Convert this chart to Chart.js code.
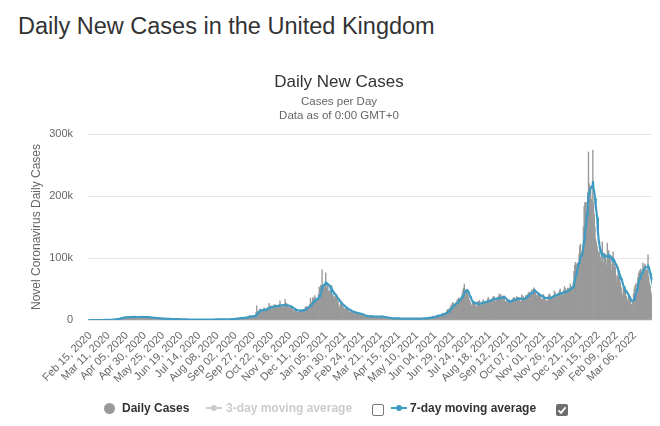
<!DOCTYPE html>
<html>
<head>
<meta charset="utf-8">
<script src="https://cdn.jsdelivr.net/npm/chart.js@4.4.1/dist/chart.umd.min.js"></script>
<style>
  html, body { margin: 0; padding: 0; background: #fff; }
  body { width: 660px; height: 426px; position: relative; overflow: hidden; font-family: "Liberation Sans", Arial, sans-serif; }
  #pageTitle { position: absolute; left: 18px; top: 12px; font-size: 23.5px; line-height: 28px; color: #333; white-space: nowrap; }
  #chart { position: absolute; left: 0; top: 0; }
  .lg { position: absolute; font-weight: bold; font-size: 12px; line-height: 14px; white-space: nowrap; }
</style>
</head>
<body>
<div id="pageTitle">Daily New Cases in the United Kingdom</div>
<canvas id="chart" width="660" height="426"></canvas>

<div id="legend">
  <span style="position:absolute;left:104px;top:403px;width:11px;height:11px;border-radius:50%;background:#999;"></span>
  <span class="lg" style="left:122px;top:401px;color:#333;">Daily Cases</span>
  <span style="position:absolute;left:206px;top:407px;width:16px;height:2px;background:#ccc;"></span>
  <span style="position:absolute;left:211px;top:405px;width:6px;height:6px;border-radius:50%;background:#ccc;"></span>
  <span class="lg" style="left:226px;top:401px;color:#ccc;">3-day moving average</span>
  <span style="position:absolute;left:372px;top:404px;width:10px;height:10px;border:1px solid #777;border-radius:2px;background:#fff;"></span>
  <span style="position:absolute;left:391px;top:407px;width:16px;height:2px;background:#3f9bc1;"></span>
  <span style="position:absolute;left:396px;top:405px;width:6px;height:6px;border-radius:50%;background:#3f9bc1;"></span>
  <span class="lg" style="left:410px;top:401px;color:#333;">7-day moving average</span>
  <span style="position:absolute;left:556px;top:404px;width:12px;height:12px;border-radius:2px;background:#6e6e6e;">
    <svg width="12" height="12" viewBox="0 0 12 12" style="position:absolute;left:0;top:0"><path d="M2.5 6.3 L5 8.8 L9.6 3.2" stroke="#fff" stroke-width="1.8" fill="none"/></svg>
  </span>
</div>

<script>
// Tick labels shown on the x axis (every 25th day)
const tickLabels = [
  "Feb 15, 2020","Mar 11, 2020","Apr 05, 2020","Apr 30, 2020","May 25, 2020","Jun 19, 2020",
  "Jul 14, 2020","Aug 08, 2020","Sep 02, 2020","Sep 27, 2020","Oct 22, 2020","Nov 16, 2020",
  "Dec 11, 2020","Jan 05, 2021","Jan 30, 2021","Feb 24, 2021","Mar 21, 2021","Apr 15, 2021",
  "May 10, 2021","Jun 04, 2021","Jun 29, 2021","Jul 24, 2021","Aug 18, 2021","Sep 12, 2021",
  "Oct 07, 2021","Nov 01, 2021","Nov 26, 2021","Dec 21, 2021","Jan 15, 2022","Feb 09, 2022",
  "Mar 06, 2022"
];
const tickEvery = 25;
const firstDay = "2020-02-15";

// Daily new cases (one value per day from Feb 15, 2020)
const dailyCases = [
0,0,0,0,0,0,0,
0,4,0,0,0,2,5,
3,12,4,11,34,29,48,
43,67,48,61,74,133,209,
342,251,152,407,676,643,714,
1035,665,967,1427,1452,2129,2885,
2546,2433,2619,3009,4324,4244,4450,
3735,5903,3802,3634,5491,4344,5200,
5233,4657,4342,5252,4603,4617,5599,
5525,4676,4301,4451,4583,5386,4913,
4463,4309,3996,4076,6032,6201,4806,
4339,4406,3985,4406,6111,5614,4649,
3896,3923,3877,3403,3242,3446,3560,
3451,3534,2684,3142,2472,2615,2959,
2959,2409,1625,2004,2013,1887,2095,
2445,1936,1570,1653,1871,1805,1650,
1557,1326,1205,1741,1003,1266,1541,
1425,1514,1056,1279,1115,1218,1346,
1295,1221,958,874,653,1118,1380,
890,901,815,689,829,576,544,
624,516,352,581,538,512,642,
820,650,530,598,538,687,827,
796,580,535,445,560,769,768,
767,747,685,763,581,846,880,
744,743,938,670,892,950,871,
758,1062,816,1148,1009,1441,1062,
1040,726,713,812,1182,1033,1288,
1041,1184,853,1089,1048,1522,1276,
1108,1715,1406,1295,1508,1735,1940,
2988,2948,2460,2420,2659,2919,3539,
3497,3330,2621,3105,3991,3395,4322,
4422,3899,4368,4926,6178,6634,6874,
6042,5693,4044,7143,7108,6914,6968,
12872,22961,12594,14542,14162,17540,13864,
15166,12872,13972,17234,19724,18980,15650,
16171,16982,18804,21331,26688,20530,23012,
19790,20890,18950,22885,24701,23065,24405,
21915,23254,18950,20018,25177,31000,23287,
24957,20572,21350,20412,22950,33470,27301,
26860,24962,21363,20051,19609,22915,20252,
19875,18662,15450,11299,18213,17555,16022,
15871,12155,12330,13430,16170,14879,16298,
15539,17272,14718,12282,16578,20964,21672,
21502,18447,20263,18450,25161,35383,28507,
27052,35928,33364,36804,39237,32725,30000,
30501,34693,41385,53135,50023,55892,53285,
81000,52000,50000,55000,56000,76000,52000,
59937,54940,46169,45533,47525,48682,55761,
41346,38598,37535,33355,38905,37892,40261,
33552,30004,22195,20089,25308,28680,29079,
23275,21088,18607,16840,19202,20634,19114,
18262,15845,14104,12364,13013,15144,13494,
13308,10972,9765,10625,12718,12057,12027,
10406,9834,10641,8489,9938,9985,8523,
7434,6035,5455,6391,5766,6573,6040,
5177,5177,4712,5766,6385,6609,6753,
5534,4618,5089,5294,5758,6303,4802,
5587,5312,5342,5379,5605,6397,6187,
3862,4715,4654,4052,4040,4479,3402,
3423,2297,2762,2379,3030,2763,3150,
2589,1730,3568,2472,2491,2672,2596,
2206,1882,2524,1946,2396,2729,2678,
2061,1712,2064,1946,2166,2381,2445,
1907,1671,1649,2613,2166,2490,2047,
1770,1979,2357,2284,2657,2193,2027,
1926,1737,2439,2412,2696,2874,2829,
2235,1979,2439,3240,3542,3180,4182,
3398,3165,3383,3165,4330,5274,6238,
5765,5341,5683,6048,7540,7393,8125,
7738,7490,7742,7673,9055,11007,10476,
10321,9284,10633,11625,16135,16703,15810,
18270,14876,22868,20479,26068,27989,27125,
24248,24248,27334,28773,32548,32551,35707,
31772,34471,34471,36660,42302,48553,51870,
58000,48161,39950,46558,44104,39906,36389,
31795,29173,24950,23511,27734,31117,29622,
24470,26144,21952,21691,29312,30215,27362,
31808,25161,25161,23510,29612,33074,29520,
28438,26750,26852,26852,33904,36572,32058,
32253,31914,31914,30838,35847,38046,37314,
32406,29547,33196,32181,35693,38154,42076,
37011,41192,37578,30825,38975,38013,37622,
29173,29547,30597,26628,30825,26911,32651,
30144,30144,29612,31564,34460,36710,35623,
32417,29612,37960,34526,36480,35577,35077,
30301,22141,40701,33869,38520,36060,35015,
34574,39962,40224,38520,42776,45066,44932,
43423,45140,49156,43738,49139,52009,49298,
44985,39962,36567,40954,43941,39842,39842,
37450,32813,33865,33865,41299,37269,34029,
30693,30305,32322,32203,39329,42408,40375,
36517,36517,36517,37243,38263,46807,44242,
40004,39931,36567,41299,43676,47240,50091,
39567,42583,40941,39716,48374,53945,50584,
42848,43992,51459,45691,51342,50867,58194,
54073,48854,54661,59610,78610,88376,93045,
90418,82886,91743,90629,106122,119789,122186,
110000,95000,120000,150000,183000,189000,190000,
175000,190000,205000,271000,220000,215000,210000,
195000,185000,274000,190000,170000,150000,130000,
125000,118000,112000,108000,110000,100000,102000,
95000,126000,100000,92000,108000,105000,98000,
88000,124000,95000,112000,100000,104000,90000,
80000,92000,110000,98000,90000,85000,72000,
62000,70000,85000,68000,72000,60000,52000,
44000,40000,55000,52000,50000,46000,38000,
33000,30000,38000,36000,34000,30000,25000,
22000,30000,42000,50000,55000,58000,52000,
60000,68000,75000,78000,80000,82000,75000,
78000,92000,85000,88000,90000,82000,80000,
80000,105000,70000,60000,55000,45000,40000
];

// 7-day moving average (one value per day)
const movingAvg7 = [
0,0,0,0,0,0,0,
0,1,1,1,1,2,2,
5,7,10,12,15,17,20,
30,40,50,61,71,81,91,
143,195,247,299,351,403,455,
606,756,907,1057,1208,1358,1509,
1776,2042,2309,2575,2842,3108,3375,
3548,3721,3894,4068,4241,4414,4587,
4632,4676,4721,4766,4810,4855,4900,
4891,4881,4872,4862,4853,4843,4834,
4835,4836,4837,4837,4838,4839,4840,
4832,4825,4817,4810,4802,4795,4787,
4620,4454,4287,4121,3954,3787,3621,
3529,3438,3346,3255,3163,3071,2980,
2860,2741,2621,2501,2381,2262,2142,
2100,2058,2016,1974,1931,1889,1847,
1780,1713,1646,1579,1511,1444,1377,
1363,1349,1335,1321,1307,1293,1279,
1249,1220,1190,1160,1130,1101,1071,
1025,979,933,887,841,795,749,
719,689,659,628,598,568,538,
556,574,592,610,628,646,664,
660,656,652,648,644,640,636,
653,669,686,703,720,736,753,
764,775,786,797,808,819,830,
860,891,921,951,981,1012,1042,
1032,1022,1012,1001,991,981,971,
998,1025,1052,1078,1105,1132,1159,
1212,1265,1318,1371,1424,1477,1530,
1718,1907,2095,2283,2472,2660,2848,
2936,3025,3113,3201,3290,3378,3466,
3732,3998,4264,4530,4797,5063,5329,
5464,5599,5734,5869,6003,6138,6273,
7592,8911,10230,11549,12868,14186,15505,
15608,15712,15815,15918,16021,16125,16228,
16839,17450,18060,18671,19282,19892,20503,
20731,20959,21187,21415,21642,21870,22098,
22280,22462,22644,22826,23008,23190,23372,
23523,23674,23825,23976,24128,24279,24430,
24124,23818,23512,23206,22899,22593,22287,
21492,20698,19903,19108,18314,17519,16725,
16400,16074,15749,15424,15098,14773,14448,
14813,15178,15543,15908,16274,16639,17004,
17998,18991,19985,20979,21972,22966,23959,
25334,26710,28085,29460,30836,32211,33587,
34080,33903,35049,37382,38923,42233,45559,
52773,55246,56476,56743,57597,60469,60286,
57277,57697,57149,55797,54586,50684,51221,
48565,46231,44997,43257,42026,40485,38270,
36658,35046,33434,31822,30211,28599,26987,
25964,24940,23917,22893,21870,20846,19823,
19077,18332,17586,16840,16095,15349,14604,
14180,13757,13333,12910,12486,12062,11639,
11360,11082,10803,10524,10245,9967,9688,
9196,8703,8211,7719,7227,6734,6242,
6178,6115,6051,5988,5924,5860,5797,
5732,5667,5602,5537,5473,5408,5343,
5392,5441,5490,5540,5589,5638,5687,
5471,5254,5038,4822,4605,4389,4172,
3980,3788,3596,3404,3213,3021,2829,
2795,2760,2726,2691,2657,2622,2588,
2552,2516,2480,2444,2409,2373,2337,
2305,2272,2240,2208,2176,2143,2111,
2106,2102,2097,2092,2087,2083,2078,
2093,2107,2122,2137,2152,2166,2181,
2215,2248,2282,2315,2349,2382,2416,
2495,2575,2654,2733,2812,2892,2971,
3137,3304,3470,3637,3803,3969,4136,
4482,4827,5173,5519,5865,6210,6556,
6868,7180,7492,7804,8116,8428,8740,
9339,9937,10536,11134,11733,12331,12930,
14301,15671,17042,18413,19784,21154,22525,
23499,24473,25447,26422,27396,28370,29344,
30868,32393,33917,35441,36966,38490,40014,
43761,45717,46499,47913,48171,46936,44724,
40980,38268,36125,32833,30494,29238,28272,
27930,27588,27246,26904,26562,26220,25878,
26219,26560,26901,27241,27582,27923,28264,
28541,28818,29095,29373,29650,29927,30204,
30749,31294,31839,32384,32929,33473,34018,
34123,34227,34332,34436,34541,34645,34750,
35117,35483,35850,36217,36584,36950,37317,
36197,35077,33957,32837,31716,30596,29476,
29923,30371,30818,31266,31713,32160,32608,
32881,33155,33428,33701,33974,34248,34521,
34418,34315,34212,34109,34007,33904,33801,
34810,35819,36828,37837,38847,39856,40865,
41801,42736,43672,44608,45544,46479,47415,
46480,45545,44610,43675,42740,41805,40870,
40146,39421,38697,37972,37248,36523,35799,
35739,35678,35618,35558,35497,35437,35376,
35957,36538,37120,37701,38282,38863,39444,
39907,40371,40834,41297,41760,42224,42687,
43032,43377,43722,44066,44411,44756,45101,
45686,46272,46857,47443,48028,48614,49199,
50800,51500,52000,53900,57800,63200,68200,
73400,78200,83500,87900,91900,96300,100500,
103300,105000,109100,117600,128600,138400,148100,
157400,171000,183100,200400,205700,209400,212300,
215100,214400,224300,212700,205600,196300,184800,
174800,165300,142100,130400,121800,114700,110700,
106400,107600,105800,103600,103300,104000,103400,
102400,102100,101400,104300,103100,103000,101800,
100700,96100,98300,96300,94800,92100,89600,
87000,83800,80300,76000,73400,69800,67000,
64400,60100,55800,53600,50400,48400,46400,
44800,43400,41000,38700,36400,34100,32300,
30700,30700,31300,33300,36300,40300,44100,
49600,55000,59700,63700,67300,70700,74000,
76600,80000,81400,82800,84300,84300,85000,
85300,87100,85000,81000,76000,70700,65000
];

// Category labels: one calendar date per data point
const MONTHS = ["Jan","Feb","Mar","Apr","May","Jun","Jul","Aug","Sep","Oct","Nov","Dec"];
const start = new Date(firstDay + "T00:00:00Z");
const categories = dailyCases.map((_, i) => {
  const d = new Date(start.getTime() + i * 86400000);
  return MONTHS[d.getUTCMonth()] + " " + String(d.getUTCDate()).padStart(2, "0") + ", " + d.getUTCFullYear();
});

Chart.defaults.font.family = '"Liberation Sans", Arial, sans-serif';
Chart.defaults.color = '#666';

new Chart(document.getElementById('chart'), {
  type: 'bar',
  data: {
    labels: categories,
    datasets: [
      {
        type: 'line',
        label: '7-day moving average',
        data: movingAvg7,
        borderColor: '#3f9bc1',
        borderWidth: 2.2,
        pointRadius: 0,
        tension: 0,
        fill: false,
        order: 0
      },
      {
        type: 'bar',
        label: 'Daily Cases',
        data: dailyCases,
        backgroundColor: '#999999',
        borderWidth: 0,
        barPercentage: 1.0,
        categoryPercentage: 1.0,
        order: 1
      }
    ]
  },
  options: {
    responsive: false,
    animation: false,
    devicePixelRatio: 1,
    layout: { padding: { left: 26, right: 8, top: 60, bottom: 31 } },
    plugins: {
      legend: { display: false },
      tooltip: { enabled: false },
      title: {
        display: true,
        text: 'Daily New Cases',
        color: '#333',
        font: { size: 17, weight: 'normal' },
        padding: { top: 12, bottom: 3 }
      },
      subtitle: {
        display: true,
        text: ['Cases per Day', 'Data as of 0:00 GMT+0'],
        color: '#666',
        font: { size: 11.5, weight: 'normal' },
        padding: { top: 0, bottom: 11 }
      }
    },
    scales: {
      x: {
        grid: { display: false, drawTicks: false },
        border: { display: false },
        ticks: {
          autoSkip: false,
          minRotation: 45,
          maxRotation: 45,
          padding: 9,
          labelOffset: 2,
          color: '#666',
          font: { size: 11 },
          callback: function (value, index) {
            return index % tickEvery === 0 ? tickLabels[index / tickEvery] : null;
          }
        },
        afterFit: function (s) { s.height = 75; s.paddingLeft = 0; s.paddingRight = 0; }
      },
      y: {
        min: 0,
        max: 300000,
        grid: { color: '#e6e6e6', drawTicks: false },
        border: { display: false },
        ticks: {
          stepSize: 100000,
          padding: 15,
          color: '#666',
          font: { size: 11 },
          callback: function (v) { return v === 0 ? '0' : (v / 1000) + 'k'; }
        },
        title: {
          display: true,
          text: 'Novel Coronavirus Daily Cases',
          color: '#666',
          font: { size: 12, weight: 'normal' },
          padding: { top: 3.8, bottom: 0 }
        },
        afterFit: function (s) { s.width = 62; }
      }
    }
  }
});
</script>
</body>
</html>
